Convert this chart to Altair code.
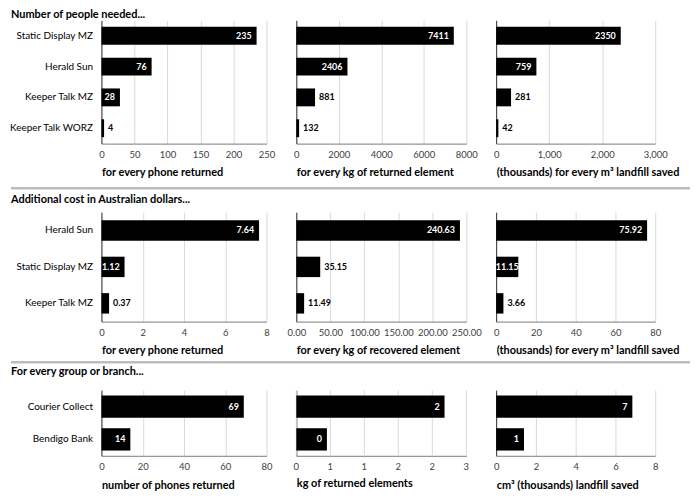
import altair as alt
import pandas as pd

FONT = "Lato"

# ---- data ----
r1_cats = ["Static Display MZ", "Herald Sun", "Keeper Talk MZ", "Keeper Talk WORZ"]
r1_phone = [235, 76, 28, 4]
r1_kg = [7411, 2406, 881, 132]
r1_m3 = [2350, 759, 281, 42]

r2_cats = ["Herald Sun", "Static Display MZ", "Keeper Talk MZ"]
r2_phone = [7.64, 1.12, 0.37]
r2_kg = [240.63, 35.15, 11.49]
r2_m3 = [75.92, 11.15, 3.66]

r3_cats = ["Courier Collect", "Bendigo Bank"]
r3_phones = [69, 14]
r3_kg = [2.18, 0.45]
r3_cm3 = [6.85, 1.40]

# where each value label sits in the reference: "in" (white, at bar end), "out" (black, after bar), "mid" (white, centred)
r1_place = [["in", "in", "in", "out"], ["in", "in", "out", "out"], ["in", "in", "out", "out"]]
r2_place = [["in", "in", "out"], ["in", "out", "out"], ["in", "mid", "out"]]
r3_place = [["in", "in"], ["in", "in"], ["in", "in"]]

row_titles = ["Number of people needed...", "Additional cost in Australian dollars...", "For every group or branch..."]

x_titles = [
    ["for every phone returned", "for every kg of returned element", "(thousands) for every m³ landfill saved"],
    ["for every phone returned", "for every kg of recovered element", "(thousands) for every m³ landfill saved"],
    ["number of phones returned", "kg of returned elements", "cm³ (thousands) landfill saved"],
]

x_ticks = [
    [[0, 50, 100, 150, 200, 250], [0, 2000, 4000, 6000, 8000], [0, 1000, 2000, 3000]],
    [[0, 2, 4, 6, 8], [0, 50, 100, 150, 200, 250], [0, 20, 40, 60, 80]],
    [[0, 20, 40, 60, 80], [0, 0.5, 1, 1.5, 2, 2.5], [0, 2, 4, 6, 8]],
]
# the kg panel of the last row shows its half-step ticks rounded (as printed in the reference)
r3_kg_tick_labels = ["0", "1", "1", "2", "2", "3"]
x_fmt = [["d", "d", ",d"], ["d", ".2f", "d"], ["d", None, "d"]]
lbl_fmt = ["d", ".2f", ".0f"]

WIDTHS = [166, 171, 160]
HEIGHTS = [124, 110, 66]
PADS = [0.42, 0.44, 0.32]
TITLE_Y = [-5, -12, -18]
SEP_Y = [None, -24, -28]
LEFT = -91
RIGHT = 592
GRID = "#d9d9d9"
TICK_COLOR = "#404040"


def panel(row, col, cats, vals, place):
    df = pd.DataFrame({"cat": cats, "val": vals, "place": place})
    w, h, pad = WIDTHS[col], HEIGHTS[row], PADS[row]
    ticks = x_ticks[row][col]
    title = x_titles[row][col]
    show_y = col == 0
    fmt = x_fmt[row][col]
    manual = fmt is None
    y = alt.Y(
        "cat:N", sort=cats, title=None,
        scale=alt.Scale(paddingInner=pad, paddingOuter=pad / 2),
        axis=alt.Axis(labels=show_y, ticks=False, domain=True, domainColor="#333333",
                      labelFont=FONT, labelFontSize=10, labelColor="#000000",
                      labelPadding=9, grid=False),
    )
    axis_kw = dict(ticks=False, domainColor="#7a7a7a",
                   titleFont=FONT, titleFontSize=11, titleFontWeight="bold",
                   titleColor="#000000", titleAnchor="start", titleAlign="left")
    if manual:
        axis_kw.update(labels=False, grid=False, titlePadding=22)
    else:
        axis_kw.update(values=ticks, tickCount=len(ticks), format=fmt,
                       grid=True, gridColor=GRID, labelFont=FONT, labelFontSize=9.5,
                       labelColor=TICK_COLOR, labelPadding=6, labelFlush=False,
                       labelOverlap=False, labelBound=False, titlePadding=8)
    scale = alt.Scale(domain=[ticks[0], ticks[-1]], nice=False, zero=True)
    x = alt.X("val:Q", title=title, scale=scale, axis=alt.Axis(**axis_kw))
    layers = []
    if manual:
        tdf = pd.DataFrame({"v": ticks, "lab": r3_kg_tick_labels})
        layers.append(
            alt.Chart(tdf).mark_rule(color=GRID, strokeWidth=1)
            .encode(x=alt.X("v:Q", title=title, scale=scale),
                    y=alt.value(0), y2=alt.value(h))
        )
        layers.append(
            alt.Chart(tdf).mark_text(baseline="top", align="center", font=FONT,
                                     fontSize=9.5, color=TICK_COLOR)
            .encode(x=alt.X("v:Q", title=title, scale=scale),
                    y=alt.value(h + 6), text="lab:N")
        )
    base = alt.Chart(df).encode(y=y)
    bars = base.mark_bar(color="#000000").encode(x=x)
    txt = alt.Text("val:Q", format=lbl_fmt[row])
    xv = alt.X("val:Q", title=title)
    lab_in = base.transform_filter("datum.place == 'in'").mark_text(
        align="right", dx=-5, color="#ffffff", font=FONT, fontWeight="bold", fontSize=9
    ).encode(x=xv, text=txt)
    lab_mid = base.transform_filter("datum.place == 'mid'").transform_calculate(
        half="datum.val / 2"
    ).mark_text(
        align="center", color="#ffffff", font=FONT, fontWeight="bold", fontSize=9
    ).encode(x=alt.X("half:Q", title=title), text=txt)
    lab_out = base.transform_filter("datum.place == 'out'").mark_text(
        align="left", dx=4, color="#000000", font=FONT, fontWeight="bold", fontSize=9
    ).encode(x=xv, text=txt)
    layers += [bars, lab_in, lab_mid, lab_out]
    if col == 0:
        tdf = pd.DataFrame({"t": [row_titles[row]]})
        layers.append(
            alt.Chart(tdf).mark_text(align="left", baseline="middle", font=FONT,
                                     fontWeight="bold", fontSize=11, color="#000000")
            .encode(x=alt.value(LEFT), y=alt.value(TITLE_Y[row]), text="t:N")
        )
        if SEP_Y[row] is not None:
            layers.append(
                alt.Chart(tdf).mark_rule(color="#bdbdbd", strokeWidth=2.5)
                .encode(x=alt.value(LEFT), x2=alt.value(RIGHT), y=alt.value(SEP_Y[row]))
            )
    return alt.layer(*layers).properties(width=w, height=h)


panels = []
rows = [
    (r1_cats, [r1_phone, r1_kg, r1_m3], r1_place),
    (r2_cats, [r2_phone, r2_kg, r2_m3], r2_place),
    (r3_cats, [r3_phones, r3_kg, r3_cm3], r3_place),
]
for ri, (cats, series, places) in enumerate(rows):
    for ci in range(3):
        panels.append(panel(ri, ci, cats, series[ci], places[ci]))

chart = alt.concat(
    *panels, columns=3, spacing={"row": 69, "column": 30}, bounds="flush"
).properties(padding=0).configure_view(stroke=None)

chart.save("out.html", embed_options={"renderer": "svg", "actions": False})
